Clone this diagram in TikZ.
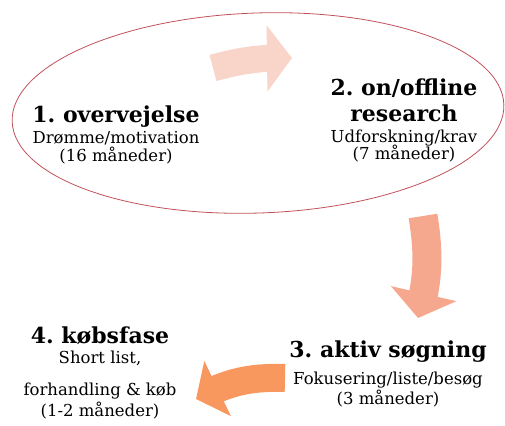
\documentclass[tikz,border=0pt]{standalone}
\usepackage{fontspec}
\setmainfont{DejaVu Serif}
\usetikzlibrary{arrows.meta,bending}
\definecolor{c1}{RGB}{249,212,200}
\definecolor{c2}{RGB}{246,168,142}
\definecolor{c3}{RGB}{249,152,94}
\definecolor{c4}{RGB}{192,80,90}
\newcommand{\fasetitle}[1]{{\fontsize{22}{26}\selectfont\bfseries #1}}

\begin{document}
\frenchspacing
\begin{tikzpicture}[x=1pt,y=-1pt,
    stage/.style={align=center, inner sep=0pt, font=\fontsize{16.5}{19}\selectfont},
    flow/.style={line width=#1, -{Triangle[length=25pt,width=65pt]}}
]
\useasboundingbox (0,0) rectangle (505,425);
\clip (0,0) rectangle (505,425);

\draw[c4, line width=0.8pt, rotate around={2:(258,113)}] (258,113) ellipse [x radius=246, y radius=100];

\node[stage] (s1) at (116,135) {\fasetitle{1. overvejelse}\\[2pt]Drømme/motivation\\[-1pt](16 måneder)};
\node[stage] (s2) at (404,120) {\fasetitle{2. on/offline}\\[7pt]\fasetitle{research}\\[2pt]Udforskning/krav\\[-2pt](7 måneder)};
\node[stage] (s3) at (388,374) {\fasetitle{3. aktiv søgning}\\[8pt]Fokusering/liste/besøg\\[1pt](3 måneder)};
\node[stage] (s4) at (100,373) {\fasetitle{4. købsfase}\\[1pt]Short list,\\[13pt]forhandling \& køb\\[2pt](1-2 måneder)};

\coordinate (a1s) at (213,68);
\coordinate (a1e) at (292,58);
\coordinate (a2s) at (423,216);
\coordinate (a2e) at (418,318);
\coordinate (a3s) at (285,378);
\coordinate (a3e) at (196,399);

\draw[flow=27pt, c1] (a1s) to[bend left=8] (a1e);
\draw[flow=29pt, c2, -{Triangle[length=25pt,width=66pt]}] (a2s) to[bend left=12] (a2e);
\draw[flow=28pt, c3, -{Triangle[length=24pt,width=60pt]}] (a3s) to[bend right=15] (a3e);
\end{tikzpicture}
\end{document}
